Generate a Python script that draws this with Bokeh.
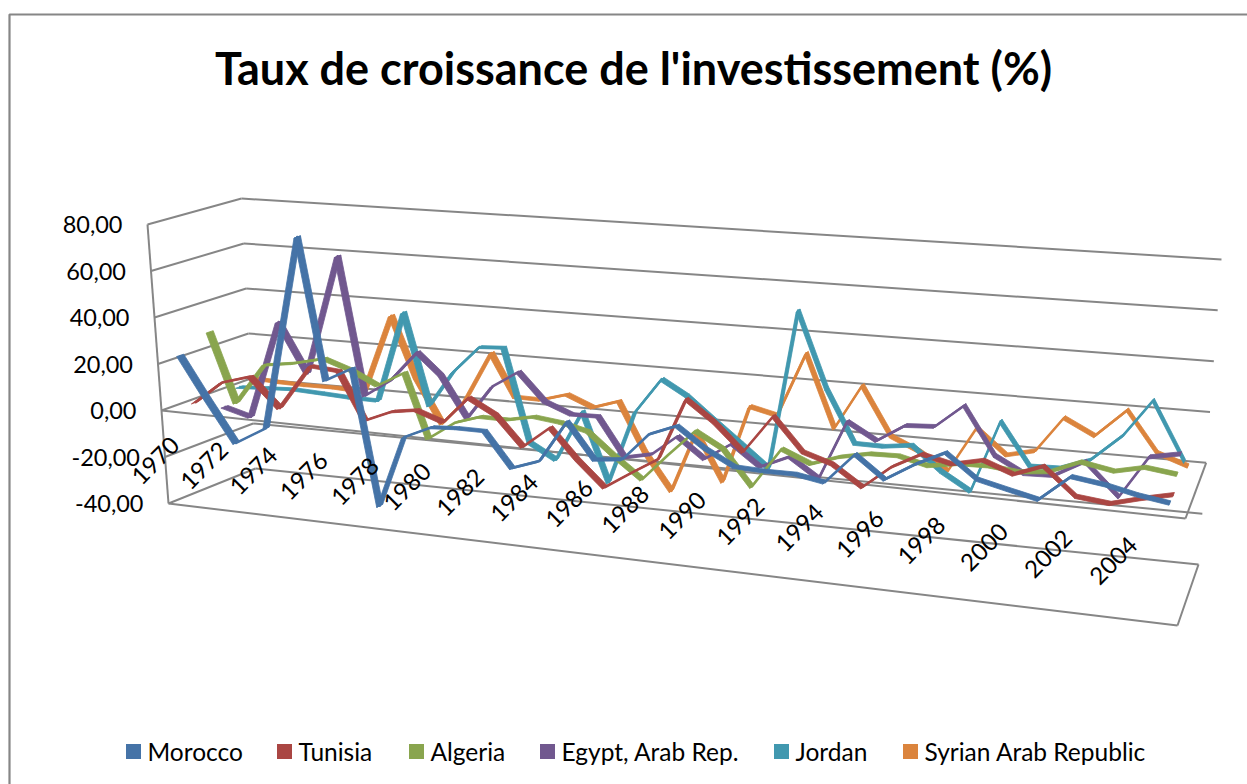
from bokeh.plotting import figure
from bokeh.models import Range1d
from bokeh.core.properties import value
from bokeh.embed import file_html
from bokeh.resources import INLINE

TITLE = "Taux de croissance de l'investissement (%)"
years = list(range(1970, 2005))
value_ticks = [80, 60, 40, 20, 0, -20, -40]
tick_text = ["80,00", "60,00", "40,00", "20,00", "0,00", "-20,00", "-40,00"]
series_names = ["Morocco", "Tunisia", "Algeria", "Egypt, Arab Rep.", "Jordan", "Syrian Arab Republic"]
series_colors = ["#4573A7", "#AA4643", "#89A54E", "#71588F", "#4198AF", "#DB843D"]

morocco = [23.1, 5.4, -12, -4.3, 78, 18.5, 24.6, -31.8, -2, 3.3, 4, 4, -10, -6, 11.3, -3, -1.7, 9.5, 14, 6, 0, -.5, -.4, -2.4, 9.8, 1.2, 8.3, 14, 4.9, 2.2, -.4, 9.6, 7.8, 5.2, 3.4]
tunisia = [.4, 10.3, 14, 1.8, 21, 20, .2, 5.1, 6.7, 2.8, 14, 8, -4, 5, -7, -17.2, -9.9, -3.4, 22, 13.8, 3, 18.5, 5.3, 1.7, -6.2, 2.9, 9.1, 6.4, 9.1, 4.8, 9.1, -1.3, -2.7, .4, 3.1]
algeria = [28.9, -.8, 16.7, 18.6, 21.8, 17.8, 12.5, 19, -7.8, 0, 3.4, 3.3, 5.6, 4.3, 1.7, -7.4, -15.7, -4.7, 6.2, 0, -14.1, 2.3, -2.5, 1.4, 3.8, 4.1, 1.3, 3.3, 3.6, 2.4, 3.6, 8.6, 6.3, 8.9, 7.4]
egypt = [-6.1, -9.3, 33, 11.9, 63.5, 4.6, 12.1, 25.2, 16.4, -.8, 13.4, 20.7, 9.2, 4.9, 5.1, -10.8, -8.4, 0, -8.2, -.9, -9.2, -3.9, -11.6, 12.5, 5.9, 13, 13.7, 23.1, 4.4, -1.6, -1.2, 5.4, -7.1, 9.5, 11.8]
jordan = [.2, .8, 1.4, .8, .1, -.1, 38.8, -.1, 15, 26.7, 27.3, -11.9, -18, 3.3, -25.3, 5, 19.8, 13.8, 4.9, -3.9, -13, 52.6, 21.8, .5, .4, 1.9, -7.5, -14.3, 14.7, -2.1, -1.8, 2.5, 13.4, 28.1, 5.4]
syria = [1.7, 1, .7, .8, .1, 34.2, 8.2, -10.6, .4, 21.6, 3.7, 3.5, 6.7, 2.2, 5.8, -14.6, -29.8, -4.1, -23.8, 8.4, 5.7, 32.3, 2.5, 21, 1.3, -3.7, -10.7, 7.7, -2.1, .6, 14.8, 8.7, 20, 4.1, 0]
series_values = [morocco, tunisia, algeria, egypt, jordan, syria]

# 3-D box of the chart: screen position of its corners at the bottom and top of the value axis
V_MIN, V_MAX = -40.0, 80.0
FRONT_LEFT = ((168, 503), (147, 224))
FRONT_RIGHT = ((1177, 625), (1201, 304))
BACK_LEFT = ((255, 468), (241, 198))
BACK_RIGHT = ((1198, 564), (1221, 259))
# where each category falls along the width of the box, with the view's perspective
CATEGORY_FRAC = [.011, .038, .066, .0955, .126, .154, .180, .207, .231, .258, .283, .31, .337, .364, .391, .418,
                 .4455, .4715, .499, .527, .5556, .5857, .615, .644, .674, .703, .733, .763, .794, .824, .854,
                 .886, .92, .951, .983]
RIBBON = 0.04
GRID = "#868686"
FONT = "Lato"


def mix(a, b, t):
    return a + (b - a) * t


def warp(u, w):
    return u / ((1 - u) * w + u)


def box(s, d, v, vx=None):
    """Fraction s across the box, depth d (0-1), value v to screen x, y. vx: value used for x."""
    out = []
    for k, val in ((0, v if vx is None else vx), (1, v)):
        t = (val - V_MIN) / (V_MAX - V_MIN)
        fl = mix(FRONT_LEFT[0][k], FRONT_LEFT[1][k], t)
        fr = mix(FRONT_RIGHT[0][k], FRONT_RIGHT[1][k], t)
        bl = mix(BACK_LEFT[0][k], BACK_LEFT[1][k], t)
        br = mix(BACK_RIGHT[0][k], BACK_RIGHT[1][k], t)
        out.append(mix(mix(fl, fr, s), mix(bl, br, s), d))
    return out


def seg(p, a, b):
    p.line([a[0], b[0]], [a[1], b[1]], line_color=GRID, line_width=2)


p = figure(width=1247, height=784, output_backend="svg", toolbar_location=None,
           x_range=Range1d(0, 1247), y_range=Range1d(784, 0), min_border=0)
p.axis.visible = False
p.grid.visible = False
p.outline_line_color = None
p.background_fill_color = "white"

# chart-area border (top and left sides are in view)
p.line([9, 9, 1247], [784, 14, 14], line_color=GRID, line_width=2.2)

# walls and floor
for v in value_ticks:
    seg(p, box(0, 1, v), box(1, 1, v))
    seg(p, box(0, 0, v), box(0, 1, v))
seg(p, box(0, 0, V_MIN), box(0, 0, V_MAX))
seg(p, box(0, 0, V_MIN), box(1, 0, V_MIN))
seg(p, box(1, 0, V_MIN), box(1, 1, V_MIN))
seg(p, box(0, 0, 0), box(1, 0, 0))
seg(p, box(1, 0, 0), box(1, 1, 0))

# series as 3-D ribbons, back to front
n = len(years)
for idx in range(len(series_names) - 1, -1, -1):
    vals = series_values[idx]
    color = series_colors[idx]
    d = (idx + 0.5) / len(series_names)
    xs, ys = [], []
    for i in range(n - 1):
        s1, s2 = CATEGORY_FRAC[i], CATEGORY_FRAC[i + 1]
        quad = [box(s1, d - RIBBON, vals[i], 0), box(s2, d - RIBBON, vals[i + 1], 0),
                box(s2, d + RIBBON, vals[i + 1], 0), box(s1, d + RIBBON, vals[i], 0)]
        xs.append([q[0] for q in quad])
        ys.append([q[1] for q in quad])
    p.patches(xs, ys, fill_color=color, line_color=color, line_width=0.8, line_join="round")
    centre = [box(CATEGORY_FRAC[i], d, vals[i], 0) for i in range(n)]
    p.line([c[0] for c in centre], [c[1] for c in centre], line_color=color, line_width=2.6, line_join="round")

# value axis labels
for v, label in zip(value_ticks, tick_text):
    x, y = box(0, 0, v)
    p.text([x - 25], [y], text=[label], text_align="right", text_baseline="middle",
           text_font=value(FONT), text_font_size="23.5px", text_color="black")

# category labels (every second year)
for i in range(0, n, 2):
    t = warp(i / (n - 1), 1.17)
    p.text([mix(155, 1113, t)], [mix(460, 560, t)], text=[str(years[i])], angle=[0.785],
           text_align="center", text_baseline="middle",
           text_font=value(FONT), text_font_size="24px", text_color="black")

# title
p.text([633], [67], text=[TITLE], text_align="center", text_baseline="middle",
       text_font=value(FONT), text_font_style="bold", text_font_size="45px", text_color="black")

# legend
swatch_x = [133, 284, 416, 547, 781, 910]
for sx, name, color in zip(swatch_x, series_names, series_colors):
    p.rect([sx], [751], width=15, height=15, fill_color=color, line_color=None)
    p.text([sx + 14], [751], text=[name], text_align="left", text_baseline="middle",
           text_font=value(FONT), text_font_size="24.5px", text_color="black")

open("out.html", "w").write(file_html(p, INLINE))
